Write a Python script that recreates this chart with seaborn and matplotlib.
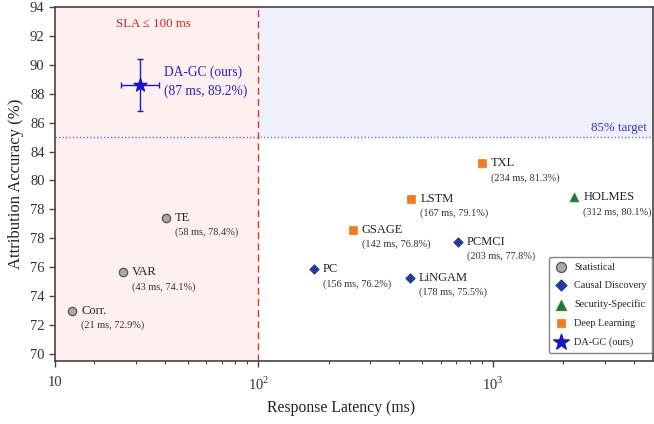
import numpy as np
import pandas as pd
import seaborn as sns
import matplotlib.pyplot as plt

# Baseline methods (plotted positions)
methods = ['Corr.', 'VAR', 'TE', 'PC', 'LiNGAM', 'PCMCI', 'HOLMES', 'GSAGE', 'LSTM', 'TXL']
groups = ['Statistical', 'Statistical', 'Statistical',
          'Causal Discovery', 'Causal Discovery', 'Causal Discovery',
          'Security-Specific',
          'Deep Learning', 'Deep Learning', 'Deep Learning']
latency = [16.1, 26.6, 40.4, 172.7, 443, 711.6, 2229, 253.3, 450, 897.7]
accuracy = [72.98, 75.63, 79.4, 75.85, 75.26, 77.73, 80.84, 78.57, 80.74, 83.19]
details = ['(21 ms, 72.9%)', '(43 ms, 74.1%)', '(58 ms, 78.4%)', '(156 ms, 76.2%)',
           '(178 ms, 75.5%)', '(203 ms, 77.8%)', '(312 ms, 80.1%)', '(142 ms, 76.8%)',
           '(167 ms, 79.1%)', '(234 ms, 81.3%)']

# Our method
ours_x = 31.3
ours_y = 88.6
ours_xerr = [[5.4], [6.5]]
ours_yerr = 1.8

# Axis ticks / labels as they appear in the reference
y_ticks = [70, 72, 74, 76, 78, 80, 82, 84, 86, 88, 90, 92, 94]
y_ticklabels = ['70', '72', '74', '76', '78', '78', '80', '84', '86', '88', '90', '92', '94']
x_left, x_right = 13.6, 4840
x_ticks = [x_left, 100, 1000]
x_ticklabels = ['10', '10$^{2}$', '10$^{3}$']
sla_ms = 100
target_acc = 85

df = pd.DataFrame({'method': methods, 'group': groups, 'latency': latency,
                   'accuracy': accuracy, 'detail': details})

sns.set_style('ticks')
plt.rcParams['font.family'] = ['Liberation Serif', 'DejaVu Serif']
plt.rcParams['mathtext.fontset'] = 'custom'
plt.rcParams['mathtext.rm'] = 'Liberation Serif'

styles = {
    'Statistical': dict(marker='o', color='#a9a9a9', edgecolor='#555555', s=36, lw=0.9),
    'Causal Discovery': dict(marker='D', color='#1a3d9e', edgecolor='#1a3d9e', s=24, lw=0.5),
    'Security-Specific': dict(marker='^', color='#1e7b2e', edgecolor='#1e7b2e', s=40, lw=0.5),
    'Deep Learning': dict(marker='s', color='#f47a1a', edgecolor='#f47a1a', s=28, lw=0.5),
}

fig, ax = plt.subplots(figsize=(6.54, 4.24), dpi=100)
fig.subplots_adjust(left=0.084, right=0.999, bottom=0.149, top=0.983)

ax.set_xscale('log')
ax.set_xlim(x_left, x_right)
ax.set_ylim(69.5, 94)

# shaded regions
ax.axvspan(x_left, sla_ms, color='#fff0f0', zorder=0)
ax.fill_between([sla_ms, x_right], target_acc, 94, color='#eef0fc', zorder=0, lw=0)
ax.axvline(sla_ms, color='#dd3333', ls=(0, (5, 3)), lw=1, zorder=1)
ax.axhline(target_acc, color='#6b6be0', ls=(0, (1, 1.5)), lw=1, zorder=1)

for g, st in styles.items():
    sub = df[df['group'] == g]
    sns.scatterplot(data=sub, x='latency', y='accuracy', ax=ax, marker=st['marker'],
                    color=st['color'], edgecolor=st['edgecolor'], s=st['s'],
                    linewidth=st['lw'], label=g, zorder=3)

for _, r in df.iterrows():
    ax.annotate(r['method'], (r['latency'], r['accuracy']), xytext=(6.5, 0),
                textcoords='offset points', ha='left', va='center', fontsize=9,
                color='#222222')
    ax.annotate(r['detail'], (r['latency'], r['accuracy']), xytext=(6.5, -10.5),
                textcoords='offset points', ha='left', va='center', fontsize=7.4,
                color='#333333')

ax.errorbar(ours_x, ours_y, xerr=ours_xerr, yerr=ours_yerr, fmt='none',
            ecolor='#1a1ac8', elinewidth=1, capsize=2.5, capthick=1, zorder=3)
ax.scatter([ours_x], [ours_y], marker='*', s=95, color='#1414c8', zorder=4,
           label='DA-GC (ours)')
ax.annotate('DA-GC (ours)', (ours_x, ours_y), xytext=(17.5, 9.5), textcoords='offset points',
            ha='left', va='center', fontsize=9.75, color='#2323c8')
ax.annotate('(87 ms, 89.2%)', (ours_x, ours_y), xytext=(17.5, -4.5), textcoords='offset points',
            ha='left', va='center', fontsize=9.75, color='#2323c8')

ax.text(0.165, 0.952, 'SLA ≤ 100 ms', transform=ax.transAxes, ha='center', va='center',
        fontsize=9.3, color='#cc2222')
ax.text(0.99, 0.659, '85% target', transform=ax.transAxes, ha='right', va='center',
        fontsize=9.3, color='#3333cc')

ax.set_yticks(y_ticks)
ax.set_yticklabels(y_ticklabels)
ax.set_xticks(x_ticks)
ax.set_xticklabels(x_ticklabels)
ax.tick_params(axis='both', which='major', labelsize=10.5, length=4, width=1,
               color='#444444', labelcolor='#333333')
ax.tick_params(axis='x', which='major', pad=7)
ax.tick_params(axis='x', which='minor', length=2.5, width=0.8, color='#444444')

for sp in ax.spines.values():
    sp.set_color('#444444')
    sp.set_linewidth(1.2)

ax.set_xlabel('Response Latency (ms)', fontsize=11.3, color='#222222')
ax.xaxis.set_label_coords((341 - 55) / 599, -0.11)
ax.set_ylabel('Attribution Accuracy (%)', fontsize=12, color='#222222')

leg = ax.legend(loc='lower right', bbox_to_anchor=(1.0, 0.02), fontsize=7.4,
                frameon=True, fancybox=True, edgecolor='#888888', framealpha=1,
                labelspacing=0.92, borderaxespad=0.1, handlelength=1.2,
                handletextpad=0.7, borderpad=0.55, markerscale=1.2)
leg.get_frame().set_linewidth(1)

fig.savefig('out.png', dpi=100)
